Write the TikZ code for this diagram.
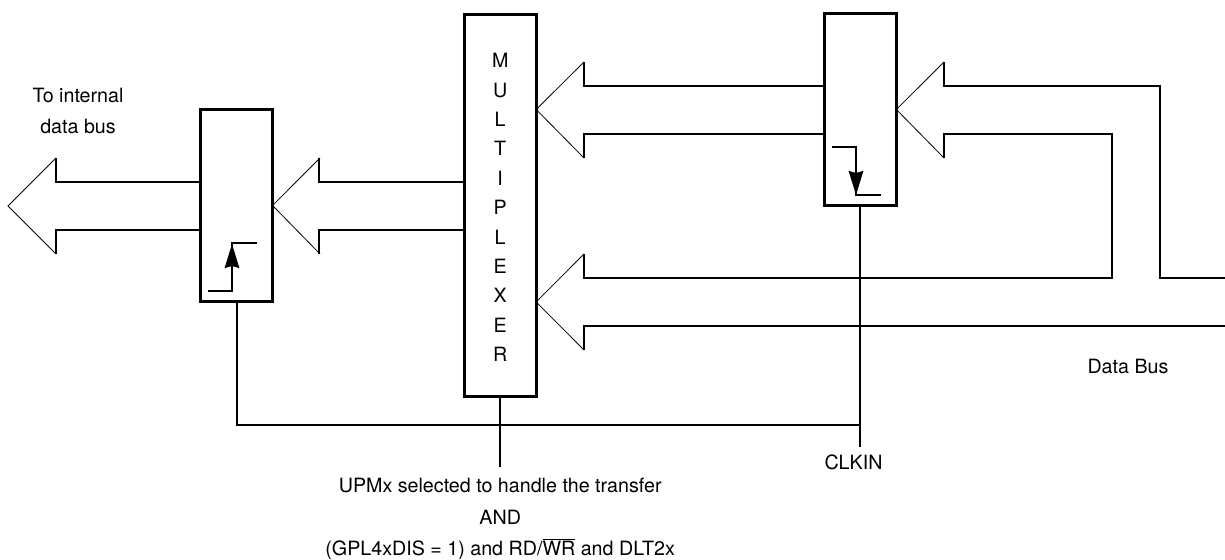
\documentclass[tikz,border=0pt]{standalone}
\usepackage{fontspec}
\setmainfont{TeX Gyre Heros}
\usetikzlibrary{arrows.meta,calc,positioning}

\begin{document}
\begin{tikzpicture}[
  x=0.02cm, y=-0.02cm,
  font=\fontsize{11.2}{18}\selectfont,
  latchBox/.style={draw=black, line width=1.7pt, fill=white, minimum width=1.44cm, minimum height=3.83cm, inner sep=0pt, outer sep=0pt},
  muxBox/.style={latchBox, minimum height=7.66cm},
  busLine/.style={line width=1.1pt, draw=black, line join=miter},
  busThin/.style={line width=0.45pt, draw=black},
  wireLine/.style={line width=1.1pt, draw=black},
  clockEdge/.style={line width=1pt, draw=black, -{Stealth[length=0.48cm, width=0.29cm, inset=0.04cm]}},
  label/.style={align=center, inner sep=0pt, outer sep=0pt}
]
\useasboundingbox (0,0) rectangle (1225,560);

\node[latchBox] (latchOut) at (236.6,205.5) {};
\node[muxBox] (mux) at (500.2,205.5) {};
\node[latchBox] (latchIn) at (860.4,109.5) {};

\node[label, font=\fontsize{11.2}{16.7}\selectfont] (muxText) at (500.2,207.5) {M\\U\\L\\T\\I\\P\\L\\E\\X\\E\\R};

\coordinate (tipOut) at (8,206);
\coordinate (tipLow) at (mux.east |- 0,302);
\coordinate (dataUp) at (1225,278);
\coordinate (dataDown) at (1225,326);

% to internal bus
\draw[busLine] ([yshift=0.47cm]latchOut.west) -- ++(-145,0) -- ++(0,-24);
\draw[busLine] ([yshift=-0.49cm]latchOut.west) -- ++(-145,0) -- ++(0,24);
\draw[busThin] (56,158) -- (tipOut) -- (56,254);

% mux to output latch
\draw[busLine] ([yshift=0.47cm]mux.west) -- ++(-145,0) -- ++(0,-24);
\draw[busLine] ([yshift=-0.49cm]mux.west) -- ++(-145,0) -- ++(0,24);
\draw[busThin] (320,158) -- (latchOut.east) -- (320,254);

% input latch to mux
\draw[busLine] ([yshift=0.47cm]latchIn.west) -- ++(-240,0) -- ++(0,-24);
\draw[busLine] ([yshift=-0.49cm]latchIn.west) -- ++(-240,0) -- ++(0,24);
\draw[busThin] (584,62) -- (mux.east |- latchIn.east) -- (584,158);

% data bus to input latch and mux
\draw[busLine] (944,62) -- (944,86) -- (1160,86) -- (1160,278) -- (dataUp);
\draw[busLine] (944,158) -- (944,134) -- (1112,134) -- (1112,278) -- (584,278) -- (584,254);
\draw[busLine] (584,350) -- (584,326) -- (dataDown);
\draw[busThin] (944,62) -- (latchIn.east) -- (944,158);
\draw[busThin] (584,254) -- (tipLow) -- (584,350);

% clock symbols
\draw[line width=1pt] (208,291) -- (232,291) -- (232,243) -- (257,243);
\draw[clockEdge] (232,280) -- (232,244);
\draw[line width=1pt] (832,147) -- (856,147) -- (856,195) -- (881,195);
\draw[clockEdge] (856,160) -- (856,195);

% clock and select wires
\coordinate (clkEnd) at (860.4,447);
\coordinate (selEnd) at (500.2,467);
\draw[wireLine] (latchIn.south) -- (clkEnd);
\draw[wireLine] (latchOut.south) -- (latchOut.south |- 0,425) -- (860.4,425);
\draw[wireLine] (mux.south) -- (selEnd);

\node[label] (busLabel) at (78,111) {To internal\\data bus};
\node[label] (dataLabel) at (1128,366) {Data Bus};
\node[label] (clkLabel) at (853.5,462) {CLKIN};
\node[label] (selLabel) at (500.2,519) {UPMx selected to handle the transfer\\AND\\(GPL4xDIS = 1) and RD/$\overline{\mbox{WR}}$ and DLT2x};
\end{tikzpicture}
\end{document}
